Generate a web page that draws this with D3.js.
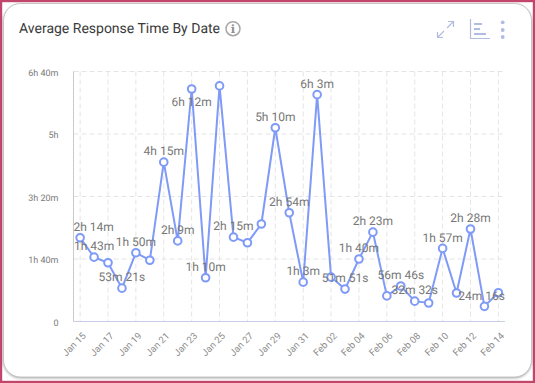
<!DOCTYPE html>
<html><head><meta charset="utf-8">
<script src="https://cdn.jsdelivr.net/npm/d3@7/dist/d3.min.js"></script>
<style>
html,body{margin:0;padding:0;background:#fff;width:535px;height:383px;overflow:hidden}
svg{display:block;font-family:Roboto,sans-serif}
text{text-rendering:geometricPrecision}
</style></head><body>
<svg id="c" width="535" height="383"></svg>
<script>
const dates=["Jan 15","Jan 16","Jan 17","Jan 18","Jan 19","Jan 20","Jan 21","Jan 22","Jan 23","Jan 24","Jan 25","Jan 26","Jan 27","Jan 28","Jan 29","Jan 30","Jan 31","Feb 01","Feb 02","Feb 03","Feb 04","Feb 05","Feb 06","Feb 07","Feb 08","Feb 09","Feb 10","Feb 11","Feb 12","Feb 13","Feb 14"];
const minutes=[134,103,94,53.35,110,98,255,129,372,70,377,135,126,156,310,174,63,363,71,51.85,100,143,41,56.77,32.53,29.6,117,45.6,148,24.27,46];
const labels=["2h 14m","1h 43m","","53m 21s","1h 50m","","4h 15m","2h 9m","6h 12m","1h 10m","","2h 15m","","","5h 10m","2h 54m","1h 3m","6h 3m","","51m 51s","1h 40m","2h 23m","","56m 46s","32m 32s","","1h 57m","","2h 28m","24m 16s",""];
const belowLabels=["6h 12m"];
const yTicks=[0,100,200,300,400];
const yTickLabels=["0","1h 40m","3h 20m","5h","6h 40m"];
const titleText="Average Response Time By Date";

const svg=d3.select("#c");
// frame and card
svg.append("rect").attr("x",1.1).attr("y",1.1).attr("width",532.8).attr("height",380.8).attr("fill","none").attr("stroke","#c2456b").attr("stroke-width",2.2);
svg.append("rect").attr("x",3.5).attr("y",3.5).attr("width",528).attr("height",373.5).attr("rx",17).attr("fill","#fff").attr("stroke","#c4c4c4").attr("stroke-width",1).style("filter","drop-shadow(0 1px 1px rgba(0,0,0,.3))");
svg.append("text").attr("x",19).attr("y",33).attr("font-size",14).attr("fill","#3a3a3a").text(titleText);

const L=73.5,R=505,T=71.5,B=321.5;
const x=d3.scalePoint().domain(dates).range([L,R]).padding(0.475);
const y=d3.scaleLinear().domain([0,400]).range([B,T]);
const tickDates=dates.filter((d,i)=>i%2===0);

// grid
const grid=svg.append("g").attr("stroke","#e4e4e4").attr("stroke-dasharray","5,3").attr("fill","none");
grid.selectAll(".v").data(tickDates).join("line").attr("x1",d=>x(d)).attr("x2",d=>x(d)).attr("y1",T).attr("y2",B);
grid.selectAll(".h").data(yTicks.slice(1)).join("line").attr("x1",L).attr("x2",R).attr("y1",d=>y(d)).attr("y2",d=>y(d));

// axes
const gx=svg.append("g").attr("transform",`translate(0,${B})`).call(d3.axisBottom(x).tickValues(tickDates).tickSize(0));
gx.select(".domain").attr("stroke","#c6cfe6").attr("stroke-width",1).attr("d",`M${L},0H${R}`);
gx.selectAll("text").attr("font-family","Roboto,sans-serif").attr("font-size",9.5).attr("fill","#8c8c8c").attr("text-anchor","end").attr("x",0).attr("y",0).attr("dy","0.35em").attr("transform","translate(3.5,12.5) rotate(-45)");
const gy=svg.append("g").attr("transform",`translate(${L},0)`).call(d3.axisLeft(y).tickValues(yTicks).tickFormat((d,i)=>yTickLabels[i]).tickSize(0).tickPadding(15));
gy.select(".domain").attr("stroke","#cacaca").attr("stroke-width",1).attr("d",`M0,${T}V${B}`);
gy.selectAll("text").attr("font-family","Roboto,sans-serif").attr("font-size",9).attr("fill","#7a7a7a").attr("y",1);

// series
const line=d3.line().x((d,i)=>x(dates[i])).y(d=>y(d));
svg.append("path").attr("d",line(minutes)).attr("fill","none").attr("stroke","#7f9af7").attr("stroke-width",2);
svg.selectAll(".pt").data(minutes).join("circle").attr("cx",(d,i)=>x(dates[i])).attr("cy",d=>y(d)).attr("r",3.8).attr("fill","#fff").attr("stroke","#7f9af7").attr("stroke-width",2);
svg.selectAll(".lb").data(labels).join("text").attr("y",(d,i)=>y(minutes[i])+(belowLabels.includes(d)?13:-11)).attr("dy","0.35em").attr("font-size",12).attr("fill","#777").text(d=>d)
  .attr("x",function(d,i){const w=this.getComputedTextLength();return Math.min(R-w,Math.max(L,x(dates[i])-w/2));});

// info icon
const info=svg.append("g").attr("transform","translate(233,28.7)");
info.append("circle").attr("r",7).attr("fill","none").attr("stroke","#a6a6a6").attr("stroke-width",1.5);
info.append("text").attr("text-anchor","middle").attr("y",4.2).attr("font-size",11.5).attr("font-weight",700).attr("font-family","'DejaVu Serif',serif").attr("fill","#8f8f8f").text("i");

// toolbar icons
const ic=svg.append("g").attr("fill","none").attr("stroke","#b0bbe0").attr("stroke-width",1.2);
ic.append("path").attr("d","M437.5,37.5L444,31M437.5,32V37.5H443M453.5,21.5L447,28M448,21.5H453.5V27");
ic.append("path").attr("d","M470.5,19V38.5H490");
ic.append("path").attr("stroke-width",2).attr("d","M474,24H482M474,29H480M474,34H486");
svg.append("g").attr("fill","#b0bbe0").selectAll("circle").data([22.3,30,37]).join("circle").attr("cx",502.7).attr("cy",d=>d).attr("r",1.9);
</script></body></html>
